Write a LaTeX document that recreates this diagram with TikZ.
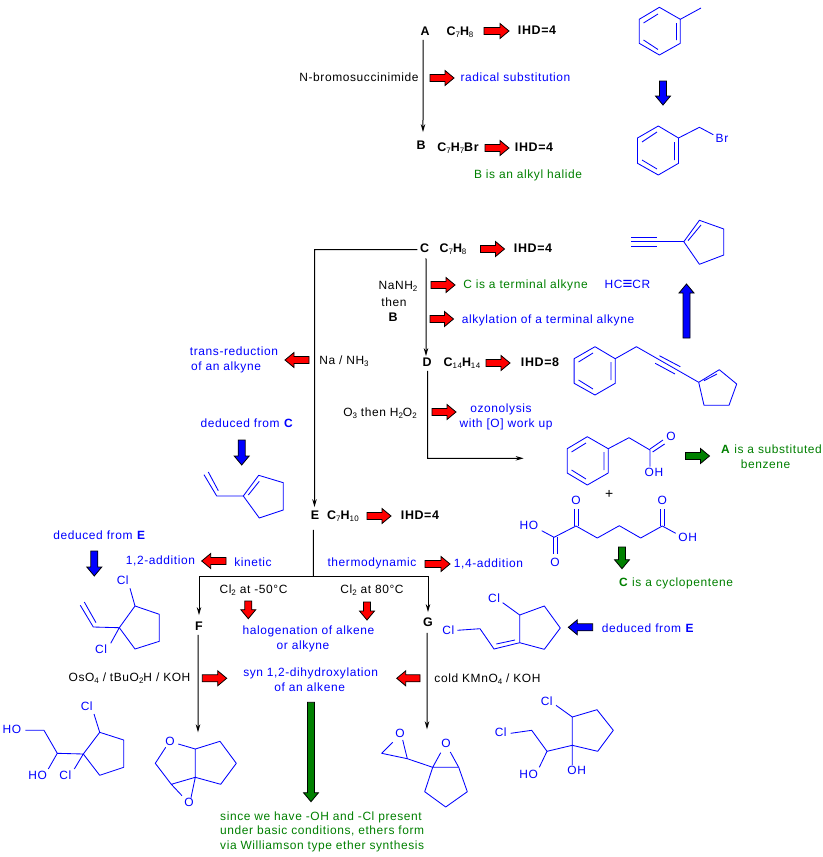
\documentclass[tikz,border=0pt]{standalone}
\usepackage{fontspec}
\setmainfont[LetterSpace=5]{Liberation Sans}
\usetikzlibrary{arrows.meta}
\definecolor{cblue}{RGB}{0,0,255}
\definecolor{cgreen}{RGB}{0,128,0}
\definecolor{cred}{RGB}{255,0,0}
\newcommand{\dn}[1]{\raisebox{-2.5pt}{\fontsize{8}{8}\selectfont\mdseries #1}}
\newcommand{\fat}[5]{\draw[fatline,fill=#5,shift={(#1,#2)},rotate=#4] (0,-3.5) -- ({#3-9},-3.5) -- ({#3-9},-7.5) -- (#3,0) -- ({#3-9},7.5) -- ({#3-9},3.5) -- (0,3.5) -- cycle;}
\tikzset{
 lbl/.style={inner sep=0.5pt,text height=8.5pt,text depth=2pt,font=\fontsize{12}{14}\selectfont},
 kt/.style={lbl,text=black},
 bt/.style={lbl,text=cblue},
 gt/.style={lbl,text=cgreen},
 kb/.style={lbl,text=black,font=\fontsize{12.5}{14}\selectfont\bfseries},
 rxn/.style={draw=black,line width=1bp,-{Stealth[length=8pt,width=4.5pt]}},
 plain/.style={draw=black,line width=1bp},
 fatline/.style={draw=black,line width=0.8pt},
 bond/.style={draw=cblue,line width=0.85pt,line join=round},
}
\begin{document}
\begin{tikzpicture}[x=1bp,y=-1bp]
\useasboundingbox (0,0) rectangle (823,857);
\fill[white] (0,0) rectangle (823,857);

% --- labels A, B
\node[kb] (A) at (425,32) {A};
\node[kb] (Af) at (460,32) {C\dn{7}H\dn{8}};
\node[kb] (Ai) at (537,31) {IHD=4};
\node[kt] (nbs) at (359,78) {N-bromosuccinimide};
\node[bt] (rad) at (515.5,78) {radical substitution};
\node[kb] (B) at (421,146) {B};
\node[kb] (Bf) at (458,148) {C\dn{7}H\dn{7}Br};
\node[kb] (Bi) at (534,148) {IHD=4};
\node[gt] (Bh) at (528,175) {B is an alkyl halide};
\node[bt] (BrT) at (722,139) {Br};
\draw[rxn] ([xshift=-2pt,yshift=-2pt]A.south) -- ([xshift=2pt,yshift=8pt]B.north);
\fat{484}{31}{25}{0}{cred}
\fat{430}{78}{24}{0}{cred}
\fat{485}{148}{24}{0}{cred}
\fat{663}{81}{24}{270}{cblue}

% toluene
\draw[bond] (659.4,7.3) -- (680.3,19.3) -- (680.3,43.3) -- (659.4,55) -- (639.2,43.3) -- (639.2,19.3) -- cycle (680.3,19.3) -- (701,8);
\draw[bond] (643.5,23) -- (658,14) (676.5,23) -- (676.5,40) (643.5,40) -- (658,49.5);
% benzyl bromide
\draw[bond] (658.3,126) -- (678.5,138) -- (678.5,163.3) -- (658.3,175) -- (637.5,163.3) -- (637.5,138) -- cycle (678.5,138) -- (699.4,127.3) -- (713.3,134.7);
\draw[bond] (642,142) -- (657,132) (674.5,142) -- (674.5,160) (642,160) -- (657,169);

% --- C, D
\node[kb] (C) at (424.5,249.5) {C};
\node[kb] (Cf) at (453,249) {C\dn{7}H\dn{8}};
\node[kb] (Ci) at (533,249) {IHD=4};
\node[kt] (nanh) at (398,286) {NaNH\dn{2}};
\node[kt] (then) at (394,303) {then};
\node[kb] (Bb) at (393,318) {B};
\node[gt] (Cterm) at (525.5,285) {C is a terminal alkyne};
\node[bt] (hccr) at (627.5,285) {HC\raisebox{-1.5pt}{\fontsize{17}{14}\selectfont ≡}CR};
\node[bt] (alk) at (548,320) {alkylation of a terminal alkyne};
\node[kb] (D) at (427,363) {D};
\node[kb] (Df) at (462,363) {C\dn{14}H\dn{14}};
\node[kb] (Di) at (540,363) {IHD=8};
\node[kt] (nan) at (344,361) {Na / NH\dn{3}};
\node[bt] (tr1) at (234,352.5) {trans-reduction};
\node[bt] (tr2) at (226,367) {of an alkyne};
\node[kt] (o3) at (380,413) {O\dn{3} then H\dn{2}O\dn{2}};
\node[bt] (oz1) at (501,409) {ozonolysis};
\node[bt] (oz2) at (506,424) {with [O] work up};
\node[gt] (Asub) at (771.5,450) {\textbf{A} is a substituted};
\node[gt] (Aben) at (765.5,465) {benzene};
\coordinate (Cbend) at (314.5,249.5);
\coordinate (Dbend) at (427.5,458.3);
\coordinate (Dend) at (523.6,458.3);
\fat{480.5}{249}{24}{0}{cred}
\fat{431}{285}{24}{0}{cred}
\fat{430}{319}{23.5}{0}{cred}
\fat{686.5}{338}{54}{90}{cblue}
\fat{486}{363}{24}{0}{cred}
\fat{309}{360}{24}{180}{cred}
\fat{432}{412}{24}{0}{cred}
\fat{685.5}{456}{24}{0}{cgreen}
\draw[rxn] ([xshift=1.5pt,yshift=-3pt]C.south) -- ([xshift=-1pt,yshift=1pt]D.north);
\draw[rxn] ([xshift=0.5pt,yshift=-2pt]D.south) -- (Dbend) -- (Dend);

% enyne
\draw[bond] (631,237.3) -- (657,237.3) (631,241.7) -- (683.8,241.7) (631,246.3) -- (657,246.3);
\draw[bond] (683.8,241.7) -- (699.4,220.3) -- (723.8,229) -- (723.8,255) -- (699.4,264.3) -- cycle (688,240.7) -- (701,225);
% D structure
\draw[bond] (595,346.7) -- (615.2,358.7) -- (615.2,383.3) -- (595,395) -- (574.1,383.3) -- (574.1,358.7) -- cycle (615.2,358.7) -- (636.4,346.7) -- (698.7,382.3);
\draw[bond] (578.5,362) -- (593,353) (611,362) -- (611,380) (578.5,380) -- (593,389);
\draw[bond] (659.4,355.7) -- (680.3,366.7) (655.2,363.3) -- (675,374);
\draw[bond] (698.7,382.3) -- (719.3,369.7) -- (736.7,384) -- (729,405.3) -- (704,405.3) -- cycle (704,380.7) -- (717,374);
% phenylacetic acid
\node[bt] (pO) at (671,437.5) {O};
\node[bt] (pOH) at (654,473) {OH};
\draw[bond] (587.3,436.7) -- (608.2,448.7) -- (608.2,473) -- (587.3,485) -- (567.2,473) -- (567.2,448.7) -- cycle (608.2,448.7) -- (629,437.7) -- (650,450) -- (650,466.7);
\draw[bond] (571.5,452) -- (586,443) (604,452) -- (604,470) (571.5,470) -- (586,479);
\draw[bond] (650,449) -- (663,440) (652.6,452) -- (664.6,444);

% --- E
\node[kb] (E) at (315,516) {E};
\node[kb] (Ef) at (343,516) {C\dn{7}H\dn{10}};
\node[kb] (Ei) at (420,516) {IHD=4};
\draw[rxn] ([xshift=-2pt]C.west) -- (Cbend) -- ([xshift=-0.5pt,yshift=3pt]E.north);
\fat{367}{516}{24}{0}{cred}
\node[kt] (plus) at (609.3,495) {\fontsize{14}{14}\selectfont +};
\node[bt] (dC) at (247,424) {deduced from \textbf{C}};
\fat{241.7}{440}{25}{270}{cblue}
\draw[bond] (216.7,496) -- (204,474.7) (208.3,472) -- (218.3,490.7) (216.7,496) -- (243.3,496);
\draw[bond] (243.3,496) -- (258.7,475.3) -- (283.3,482.7) -- (283.3,510) -- (259.3,518) -- cycle (248.3,495) -- (259.3,481.3);

% diacid
\node[bt] (dHO) at (529,526) {HO};
\node[bt] (dO1) at (555,563.5) {O};
\node[bt] (dO2) at (576,501) {O};
\node[bt] (dO3) at (662.3,501) {O};
\node[bt] (dOH) at (687.7,538) {OH};
\draw[bond] (541.7,530.7) -- (554,537.3) -- (576,526) -- (597.3,538) -- (619.3,525.7) -- (640.7,538) -- (662.3,526) -- (675.7,533.3);
\draw[bond] (553.3,537) -- (553.3,554) (557.3,537) -- (557.3,554);
\draw[bond] (574,526) -- (574,509) (578,526) -- (578,509);
\draw[bond] (660.3,526) -- (660.3,509) (664.3,526) -- (664.3,509);
\fat{622}{547}{21.7}{270}{cgreen}
\node[gt] (Ccyc) at (676,583) {\textbf{C} is a cyclopentene};

% --- branch
\node[bt] (dE1) at (99.5,536) {deduced from \textbf{E}};
\fat{94.3}{551}{25}{270}{cblue}
\node[bt] (a12) at (160.5,561) {1,2-addition};
\fat{226}{561}{24.3}{180}{cred}
\node[bt] (kin) at (253,563) {kinetic};
\node[bt] (thd) at (372,563) {thermodynamic};
\fat{425}{564}{25}{0}{cred}
\node[bt] (a14) at (488.5,564) {1,4-addition};
\node[kb] (F) at (199,627) {F};
\node[kb] (G) at (428,623) {G};
\coordinate (Ejoin) at (313.3,576.3);
\coordinate (Fbend) at (199,576.3);
\coordinate (Gbend) at (428,576.3);
\coordinate (Ftop) at (198,732.3);
\coordinate (Gtip) at (427,729.3);
\draw[plain] ([xshift=-1.7pt,yshift=-8pt]E.south) -- (Ejoin);
\draw[rxn] (Ejoin) -- (Fbend) -- ([yshift=6pt]F.north);
\draw[rxn] (Ejoin) -- (Gbend) -- ([yshift=5pt]G.north);
\draw[rxn] ([xshift=-1pt,yshift=-2pt]F.south) -- (Ftop);
\draw[rxn] ([xshift=-1pt,yshift=-4pt]G.south) -- (Gtip);
\node[kt] (cl50) at (253.5,590) {Cl\dn{2} at -50°C};
\node[kt] (cl80) at (372,590) {Cl\dn{2} at 80°C};
\fat{248.3}{601}{17.7}{270}{cred}
\fat{367}{602}{18}{270}{cred}
\node[bt] (hal1) at (308.5,631) {halogenation of alkene};
\node[bt] (hal2) at (303,646) {or alkyne};
% left dichloride
\node[bt] (fCl1) at (122.7,581) {Cl};
\node[bt] (fCl2) at (101,650) {Cl};
\draw[bond] (135,606) -- (159.3,614.3) -- (159.3,641.3) -- (135,649) -- (119.3,627.7) -- cycle;
\draw[bond] (130,588.3) -- (135,606) (119.3,627.7) -- (93.3,627) -- (80.3,605.3) (84.3,602) -- (96,622.7) (110.7,643.3) -- (119.3,627.7);
% G dichloride
\node[bt] (gCl1) at (494,599) {Cl};
\node[bt] (gCl2) at (448.3,631) {Cl};
\draw[bond] (519.7,615) -- (544.3,606) -- (560.3,628) -- (544.3,649.3) -- (519.7,642.7) -- cycle;
\draw[bond] (502.7,602.7) -- (519.7,615);
\draw[bond] (519.7,642.7) -- (494,649) -- (480,628.7) -- (457.3,630.3) (496.3,644) -- (515,640);
\fat{592.7}{627.3}{24.4}{180}{cblue}
\node[bt] (dE2) at (648,629) {deduced from \textbf{E}};

% --- lower reagents
\node[kt] (oso) at (129.5,678) {OsO\dn{4} / tBuO\dn{2}H / KOH};
\fat{202.3}{678.3}{24.4}{0}{cred}
\node[bt] (syn1) at (310.7,673) {syn 1,2-dihydroxylation};
\node[bt] (syn2) at (309.7,688) {of an alkene};
\fat{420}{678.3}{23.3}{180}{cred}
\node[kt] (kmn) at (487.5,679) {cold KMnO\dn{4} / KOH};
\fat{311}{702.3}{99.4}{270}{cgreen}
\node[gt,anchor=west] (s1) at (219.5,817) {since we have -OH and -Cl present};
\node[gt,anchor=west] (s2) at (219.5,831) {under basic conditions, ethers form};
\node[gt,anchor=west] (s3) at (219.5,846) {via Williamson type ether synthesis};

% HO dichloride
\node[bt] (hHO) at (12,730) {HO};
\node[bt] (hHO2) at (37.7,776) {HO};
\node[bt] (hCl1) at (86.7,707.3) {Cl};
\node[bt] (hCl2) at (65.3,776) {Cl};
\draw[bond] (25.3,730.3) -- (44,730.3) -- (57.3,753.3) -- (83.3,754) (57.3,753.3) -- (48.3,769) (83.3,754) -- (74.3,769) (94,714) -- (99.7,732.3);
\draw[bond] (83.3,754) -- (99.7,732.3) -- (123.7,740) -- (123.7,767.3) -- (99.7,775.3) -- cycle;
% bicyclic ether
\node[bt] (bO1) at (170,742) {O};
\node[bt] (bO2) at (189,803.3) {O};
\draw[bond] (178.3,744) -- (195.3,749) -- (220,741.3) -- (236.3,763.3) -- (220.7,784.3) -- (195.3,777.3) -- (195.3,749);
\draw[bond] (165.7,747.3) -- (155.3,763.3) -- (171.3,784.3) -- (195.3,777.3) -- (191,797.7) (171.3,784.3) -- (182,795.7);
% bis-epoxide
\node[bt] (eO1) at (400,734) {O};
\node[bt] (eO2) at (446,744.3) {O};
\draw[bond] (392.7,742.3) -- (381.7,753.3) -- (407.3,758.7) -- (402.7,740) (407.3,758.7) -- (432.7,767.3);
\draw[bond] (440.7,752.7) -- (432.7,767.3) -- (458.7,767.3) -- (450.3,752);
\draw[bond] (432.7,767.3) -- (424.7,791.7) -- (445.7,807) -- (467.3,791.7) -- (458.7,767.3);
% diol
\node[bt] (oCl1) at (546.7,702) {Cl};
\node[bt] (oCl2) at (500.7,733) {Cl};
\node[bt] (oOH) at (576.7,771) {OH};
\node[bt] (oHO) at (528.7,775) {HO};
\draw[bond] (572.3,717) -- (597,709.7) -- (613.3,730.3) -- (597.7,751.3) -- (572.3,745.3) -- cycle;
\draw[bond] (556,705.3) -- (572.3,717);
\draw[bond] (572.3,745.3) -- (572.3,765) (572.3,745.3) -- (547,751.3) -- (531.7,730.3) -- (510.7,733.3) (547,751.3) -- (539.3,767.3);
\end{tikzpicture}
\end{document}
